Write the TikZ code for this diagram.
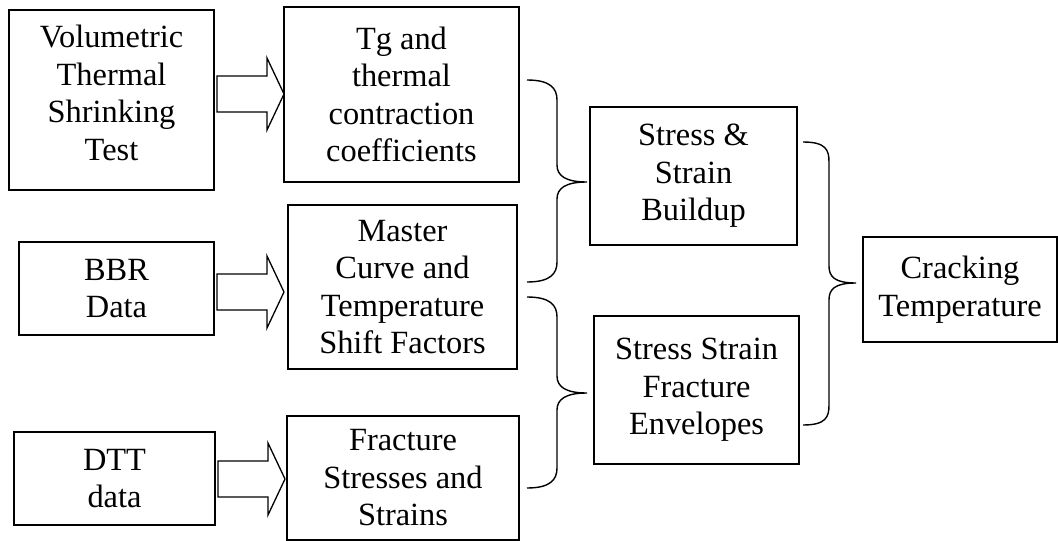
\documentclass[tikz,border=0pt]{standalone}
\usepackage{fontspec}
\setmainfont{Liberation Serif}
\newcommand\drawbrace[6]{% xa, yt, xm, xt, ym, yb
  \draw[bracepath] (#1,#2) .. controls +(23,0) and +(0,-12) .. (#3,#2+20)
    -- (#3,#5-17) .. controls +(0,11) and +(-21,0) .. (#4,#5)
    .. controls +(-21,0) and +(0,-11) .. (#3,#5+17)
    -- (#3,#6-20) .. controls +(0,12) and +(23,0) .. (#1,#6);}
\begin{document}
\begin{tikzpicture}[x=1pt,y=-1pt,
  flowbox/.style={draw, line width=1.4pt, align=center, inner sep=0pt,
    font=\fontsize{32.4}{37.5}\selectfont},
  blockarrow/.style={draw, line width=1.3pt, fill=white, line join=miter},
  bracepath/.style={draw, line width=1.4pt}]
\useasboundingbox (0,0) rectangle (1058,541);
\node[flowbox, minimum width=205, minimum height=180, text depth=14pt] (vol) at (111.5,100) {Volumetric\\Thermal\\Shrinking\\Test};
\node[flowbox, minimum width=235, minimum height=175] (tg) at (401.5,94.5) {Tg and\\thermal\\contraction\\coefficients};
\node[flowbox, minimum width=195, minimum height=93] (bbr) at (116.5,288.5) {BBR\\Data};
\node[flowbox, minimum width=229, minimum height=164] (mc) at (402.5,287) {Master\\Curve and\\Temperature\\Shift Factors};
\node[flowbox, minimum width=201, minimum height=93] (dtt) at (114.5,478.5) {DTT\\data};
\node[flowbox, minimum width=232, minimum height=124] (fs) at (403,478) {Fracture\\Stresses and\\Strains};
\node[flowbox, minimum width=207, minimum height=138] (ssb) at (693.5,176) {Stress \&\\Strain\\Buildup};
\node[flowbox, minimum width=205, minimum height=148] (ssf) at (696.5,390) {Stress Strain\\Fracture\\Envelopes};
\node[flowbox, minimum width=194, minimum height=105] (ct) at (960,289.5) {Cracking\\Temperature};
% block arrows
\coordinate (t1) at (284,94);
\coordinate (t2) at (284,292);
\coordinate (t3) at (285,479);
\foreach \t in {t1,t2,t3}{
  \draw[blockarrow] (\t) -- ++(-17,-36) -- ++(0,18) -- ++(-50,0) -- ++(0,36) -- ++(50,0) -- ++(0,18) -- cycle;}
% braces
\drawbrace{527}{80}{557}{587}{182}{282}
\drawbrace{527}{297}{557}{587}{393}{488}
\drawbrace{803}{142}{829}{856}{283}{425}
\end{tikzpicture}
\end{document}
